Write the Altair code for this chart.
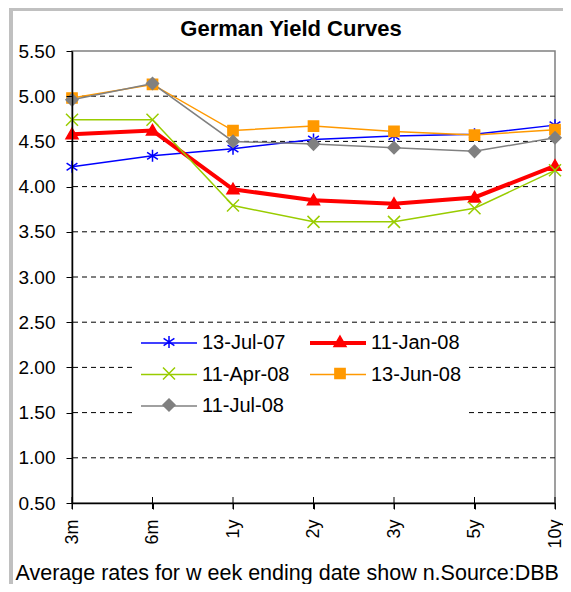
import altair as alt
import pandas as pd

maturities = ["3m", "6m", "1y", "2y", "3y", "5y", "10y"]
series_names = ["13-Jul-07", "11-Jan-08", "11-Apr-08", "13-Jun-08", "11-Jul-08"]
jul07 = [4.22, 4.34, 4.42, 4.52, 4.56, 4.58, 4.68]
jan08 = [4.58, 4.62, 3.97, 3.85, 3.81, 3.88, 4.23]
apr08 = [4.74, 4.74, 3.79, 3.61, 3.61, 3.76, 4.18]
jun08 = [4.98, 5.13, 4.62, 4.67, 4.61, 4.57, 4.63]
jul08 = [4.96, 5.14, 4.50, 4.47, 4.43, 4.39, 4.54]
y_ticks = [0.5, 1.0, 1.5, 2.0, 2.5, 3.0, 3.5, 4.0, 4.5, 5.0, 5.5]
grid_values = [1.0, 1.5, 2.0, 2.5, 3.0, 3.5, 4.0, 4.5, 5.0]

colors = ["#0000FF", "#FF0000", "#99CC00", "#FF9900", "#808080"]
widths = [1.5, 4.0, 1.5, 1.5, 1.5]
shapes = [
    "M0,-1V1M-0.9,-0.6L0.9,0.6M-0.9,0.6L0.9,-0.6",
    "M0,-1L1,0.75L-1,0.75Z",
    "M-1,-1L1,1M-1,1L1,-1",
    "M-0.85,-0.85H0.85V0.85H-0.85Z",
    "M0,-1L1,0L0,1L-1,0Z",
]
title_text = "German Yield Curves"
footer = "Average rates for w eek ending date show n.Source:DBB"

# marker keys: distinct identity so the marker legend stays separate from the line legend
marker_keys = [n + "\u200b" for n in series_names]

rows = []
for name, key, vals in zip(series_names, marker_keys, [jul07, jan08, apr08, jun08, jul08]):
    for m, v in zip(maturities, vals):
        rows.append({"series": name, "marker": key, "maturity": m, "rate": v})
df = pd.DataFrame(rows)

W, H = 483, 452
FONT = "Liberation Sans"

x_scale = alt.Scale(type="point", domain=maturities, padding=0)
x_enc = alt.X(
    "maturity:N", sort=maturities, scale=x_scale,
    axis=alt.Axis(
        labelAngle=-90, labelAlign="right", labelBaseline="middle",
        labelFont=FONT, labelFontSize=18, labelColor="black", labelPadding=10,
        tickSize=6, tickColor="black", tickWidth=1,
        domainColor="black", domainWidth=1.5, grid=False, zindex=1,
        title=footer, titleFont=FONT, titleFontSize=21.5, titleFontWeight="normal",
        titleColor="black", titleAlign="left", titleBaseline="alphabetic",
        titleX=-57, titleY=76, titleAngle=0,
    ),
)
y_scale = alt.Scale(domain=[0.5, 5.5], nice=False, zero=False)
y_enc = alt.Y(
    "rate:Q", scale=y_scale,
    axis=alt.Axis(
        values=y_ticks, format=".2f", labelFont=FONT, labelFontSize=19,
        labelColor="black", labelPadding=11, tickSize=6, tickColor="black",
        domainColor="black", domainWidth=1.5, grid=False, title=None, zindex=1,
    ),
)
color_scale = alt.Scale(domain=series_names, range=colors)
width_scale = alt.Scale(type="ordinal", domain=series_names, range=widths)

line_legend = alt.Legend(
    orient="none", legendX=63, legendY=276, columns=2, direction="horizontal", title=None,
    labelFont=FONT, labelFontSize=20, labelColor="black",
    symbolType="stroke", symbolSize=3136, symbolOffset=-2, labelOffset=3,
    rowPadding=11.5, columnPadding=20, padding=6, clipHeight=20,
    fillColor="white", labelLimit=300, symbolOpacity=1, zindex=1,
)
marker_legend = alt.Legend(
    orient="none", legendX=87, legendY=281, columns=2, direction="horizontal", title=None,
    labelFont=FONT, labelFontSize=20, labelExpr="''",
    symbolSize=144, symbolStrokeWidth=1.5, labelOffset=3,
    rowPadding=11.5, columnPadding=148, padding=0, clipHeight=20,
    labelLimit=300, symbolOpacity=1, zindex=2,
)

grid = alt.Chart(pd.DataFrame({"g": grid_values})).mark_rule(
    color="black", strokeWidth=1, strokeDash=[5, 4]
).encode(y=alt.Y("g:Q", scale=y_scale))

frame = alt.Chart(pd.DataFrame({"f": [0]})).mark_rect(
    filled=False, stroke="#c0c0c0", strokeWidth=4
).encode(x=alt.value(-61), x2=alt.value(W + 100), y=alt.value(-42), y2=alt.value(H + 200))

title = alt.Chart(pd.DataFrame({"t": [title_text]})).mark_text(
    font=FONT, fontSize=22, fontWeight="bold", color="black", align="center", baseline="alphabetic"
).encode(text="t:N", x=alt.value(219), y=alt.value(-15))

cross_ticks = alt.Chart(pd.DataFrame({"maturity": maturities, "base": [y_ticks[0]] * len(maturities)})).mark_tick(
    orient="vertical", size=12, thickness=1, color="black", opacity=1
).encode(x=alt.X("maturity:N", sort=maturities, scale=x_scale), y=alt.Y("base:Q", scale=y_scale))

lines = alt.Chart(df).mark_line().encode(
    x=x_enc, y=y_enc,
    color=alt.Color("series:N", scale=color_scale, legend=line_legend),
    strokeWidth=alt.StrokeWidth("series:N", scale=width_scale, legend=line_legend),
)
marker_color = alt.Scale(domain=marker_keys, range=colors)
points = alt.Chart(df).mark_point(filled=True, size=144, opacity=1, strokeWidth=1.5).encode(
    x=x_enc, y=y_enc,
    fill=alt.Fill("marker:N", scale=marker_color, legend=marker_legend),
    stroke=alt.Stroke("marker:N", scale=marker_color, legend=marker_legend),
    shape=alt.Shape("marker:N", scale=alt.Scale(domain=marker_keys, range=shapes), legend=marker_legend),
)

chart = alt.layer(frame, grid, lines, points, cross_ticks, title).properties(
    width=W, height=H,
    autosize=alt.AutoSizeParams(type="none"),
    padding={"left": 64, "top": 43, "right": 8, "bottom": 81},
    background="white",
).configure_view(stroke="#808080", strokeWidth=1.5)

chart.save("out.html", embed_options={"renderer": "svg", "actions": False})
